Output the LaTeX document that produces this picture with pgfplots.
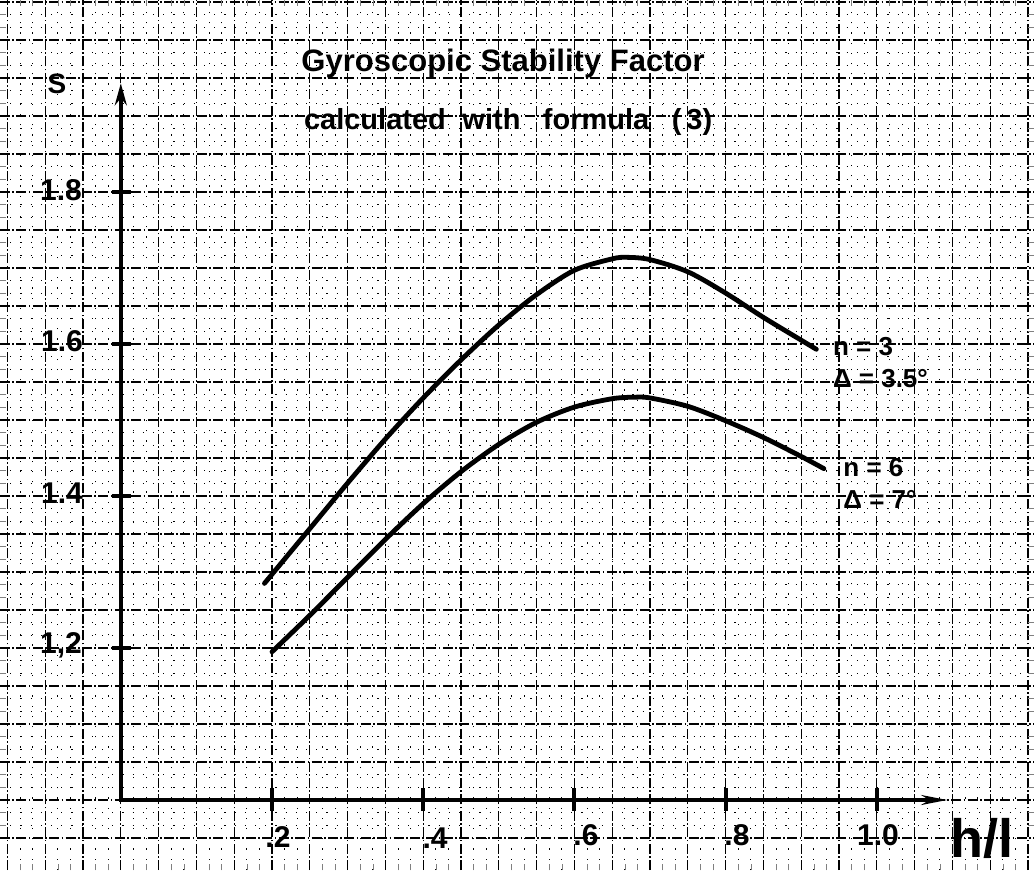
\documentclass[border=0pt]{standalone}
\usepackage{fontspec}
\setmainfont{Liberation Sans}
\usepackage{pgfplots}
\pgfplotsset{compat=1.18}
\usetikzlibrary{arrows.meta}
\begin{document}
\begin{tikzpicture}
\begin{axis}[
  width=517pt, height=435pt, scale only axis,
  xmin=-0.1598, xmax=1.2079, ymin=0.9079, ymax=2.0526,
  axis line style={draw=none},
  xtick={-0.15,-0.1,...,1.21}, ytick={0.95,1.0,...,2.06},
  xmajorticks=false, ymajorticks=false, xminorticks=false, yminorticks=false,
  minor tick num=2,
  grid=both,
  major grid style={black, line width=0.55pt, dash pattern=on 5pt off 1.2pt on 0.8pt off 1.2pt},
  minor grid style={black, line width=0.5pt, dash pattern=on 0.6pt off 4.5pt},
  clip=false,
  font=\bfseries,
]
% curves
\addplot[black, line width=2.4pt, smooth, line cap=round] coordinates {
(0.19,1.285) (0.25,1.357) (0.30,1.417) (0.35,1.475) (0.40,1.529) (0.45,1.579)
(0.50,1.625) (0.55,1.665) (0.60,1.697) (0.65,1.712) (0.67,1.714) (0.70,1.711)
(0.75,1.695) (0.80,1.667) (0.85,1.635) (0.90,1.605) (0.92,1.593)};
\addplot[black, line width=2.4pt, smooth, line cap=round] coordinates {
(0.20,1.195) (0.25,1.243) (0.30,1.293) (0.35,1.343) (0.40,1.390) (0.45,1.432)
(0.50,1.468) (0.55,1.497) (0.60,1.517) (0.65,1.528) (0.68,1.530) (0.70,1.529)
(0.75,1.518) (0.80,1.499) (0.85,1.477) (0.90,1.452) (0.93,1.436)};
% axes
\draw[line width=1.7pt, -{Stealth[length=11pt,width=6pt]}] (axis cs:0,0.998) -- (axis cs:0,1.943);
\draw[line width=1.7pt, -{Stealth[length=13pt,width=5pt]}] (axis cs:-0.002,1.0) -- (axis cs:1.093,1.0);
% ticks
\draw[line width=2pt] (axis cs:-0.012,1.2) -- (axis cs:0.014,1.2);
\draw[line width=2pt] (axis cs:-0.012,1.4) -- (axis cs:0.014,1.4);
\draw[line width=2pt] (axis cs:-0.012,1.6) -- (axis cs:0.014,1.6);
\draw[line width=2pt] (axis cs:-0.012,1.8) -- (axis cs:0.014,1.8);
\draw[line width=2pt] (axis cs:0.2,0.986) -- (axis cs:0.2,1.016);
\draw[line width=2pt] (axis cs:0.4,0.986) -- (axis cs:0.4,1.016);
\draw[line width=2pt] (axis cs:0.6,0.986) -- (axis cs:0.6,1.016);
\draw[line width=2pt] (axis cs:0.8,0.986) -- (axis cs:0.8,1.016);
\draw[line width=2pt] (axis cs:1.0,0.986) -- (axis cs:1.0,1.016);
% labels
\node[font=\bfseries\fontsize{14}{16}\selectfont] at (axis cs:-0.0844,1.942) {S};
\node[font=\bfseries\fontsize{15}{18}\selectfont] at (axis cs:-0.0791,1.803) {1.8};
\node[font=\bfseries\fontsize{15}{18}\selectfont] at (axis cs:-0.0778,1.604) {1.6};
\node[font=\bfseries\fontsize{15}{18}\selectfont] at (axis cs:-0.0778,1.404) {1.4};
\node[font=\bfseries\fontsize{15}{18}\selectfont] at (axis cs:-0.0791,1.204) {1,2};
\node[font=\bfseries\fontsize{15}{18}\selectfont] at (axis cs:0.2079,0.9513) {.2};
\node[font=\bfseries\fontsize{15}{18}\selectfont] at (axis cs:0.4156,0.950) {.4};
\node[font=\bfseries\fontsize{15}{18}\selectfont] at (axis cs:0.6153,0.954) {.6};
\node[font=\bfseries\fontsize{15}{18}\selectfont] at (axis cs:0.8150,0.954) {.8};
\node[font=\bfseries\fontsize{15}{18}\selectfont] at (axis cs:1.0016,0.954) {1.0};
\node[font=\bfseries\fontsize{27}{30}\selectfont] at (axis cs:1.1394,0.950) {h/l};
\node[anchor=base, font=\bfseries\fontsize{15.5}{18}\selectfont] at (axis cs:0.5056,1.9579) {Gyroscopic Stability Factor};
\node[anchor=base, font=\bfseries\fontsize{14.5}{16}\selectfont] at (axis cs:0.3362,1.8816) {calculated};
\node[anchor=base, font=\bfseries\fontsize{14.5}{16}\selectfont] at (axis cs:0.4903,1.8816) {with};
\node[anchor=base, font=\bfseries\fontsize{14.5}{16}\selectfont] at (axis cs:0.6286,1.8816) {formula};
\node[anchor=base, font=\bfseries\fontsize{14.5}{16}\selectfont] at (axis cs:0.7556,1.8816) {(\,3)};
\node[anchor=base west, inner sep=0pt, font=\bfseries\fontsize{13}{15}\selectfont] at (axis cs:0.9415,1.5855) {n = 3};
\node[anchor=base west, inner sep=0pt, font=\bfseries\fontsize{13}{15}\selectfont] at (axis cs:0.9415,1.5421) {Δ = 3.5°};
\node[anchor=base west, inner sep=0pt, font=\bfseries\fontsize{13}{15}\selectfont] at (axis cs:0.9553,1.425) {n = 6};
\node[anchor=base west, inner sep=0pt, font=\bfseries\fontsize{13}{15}\selectfont] at (axis cs:0.9553,1.3842) {Δ = 7°};
\end{axis}
\pgfresetboundingbox
\useasboundingbox (current axis.south west) rectangle (current axis.north east);
\end{tikzpicture}
\end{document}
